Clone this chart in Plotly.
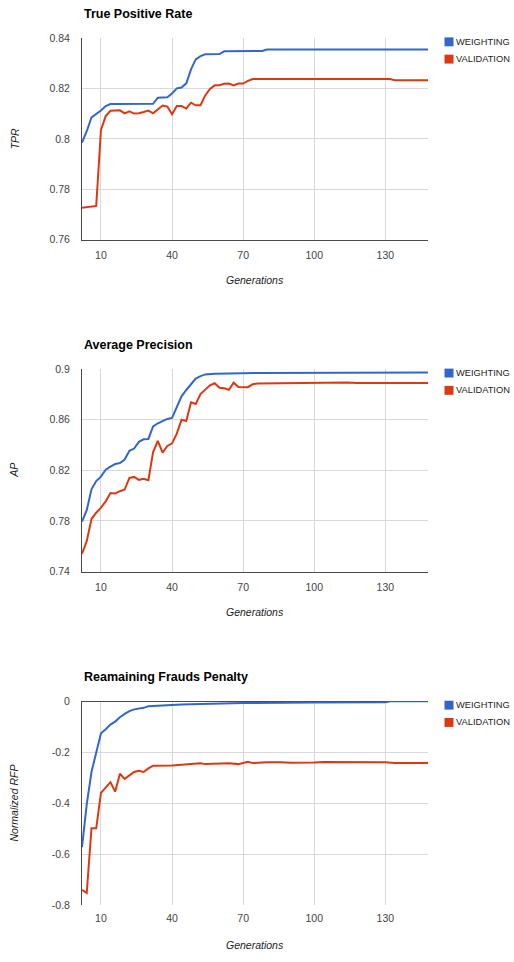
import plotly.graph_objects as go

# Figure size in pixels
W, H = 514, 962
FONT = "Arial, 'Liberation Sans', sans-serif"

SERIES = ["WEIGHTING", "VALIDATION"]
COLORS = ["#3366cc", "#dc3912"]

X_TICKS = [10, 40, 70, 100, 130]
X_RANGE = [2, 148]

# ---- True Positive Rate -------------------------------------------------
tpr_gen_w = [2, 4, 6, 8, 10, 12, 14, 32, 34, 38, 40, 42, 44, 46, 48, 50, 52, 54,
             60, 62, 78, 80, 148]
tpr_w = [0.7985, 0.8030, 0.8085, 0.8097, 0.8112, 0.8130, 0.8138, 0.8139, 0.8163,
         0.8165, 0.8180, 0.8200, 0.8203, 0.8220, 0.8275, 0.8315, 0.8328, 0.8335,
         0.8336, 0.8347, 0.8348, 0.8354, 0.8354]
tpr_gen_v = [2, 8, 10, 12, 14, 18, 20, 22, 24, 26, 28, 30, 32, 34, 36, 38, 40, 42,
             44, 46, 48, 50, 52, 54, 56, 58, 60, 62, 64, 66, 68, 70, 72, 74, 132,
             134, 148]
tpr_v = [0.7727, 0.7734, 0.8035, 0.8090, 0.8111, 0.8113, 0.8101, 0.8109, 0.8100,
         0.8101, 0.8106, 0.8112, 0.8101, 0.8115, 0.8132, 0.8128, 0.8097, 0.8130,
         0.8130, 0.8120, 0.8143, 0.8133, 0.8133, 0.8172, 0.8198, 0.8212, 0.8212,
         0.8218, 0.8219, 0.8212, 0.8219, 0.8219, 0.8230, 0.8237, 0.8237, 0.8232,
         0.8232]
tpr_ticks = [0.76, 0.78, 0.80, 0.82, 0.84]
tpr_ticktext = ["0.76", "0.78", "0.8", "0.82", "0.84"]

# ---- Average Precision --------------------------------------------------
ap_gen_w = [2, 4, 6, 8, 10, 12, 14, 16, 18, 20, 22, 24, 26, 28, 30, 32, 34, 36,
            38, 40, 42, 44, 46, 48, 50, 52, 54, 58, 64, 76, 148]
ap_w = [0.7795, 0.7885, 0.8050, 0.8115, 0.8150, 0.8205, 0.8230, 0.8250, 0.8258,
        0.8285, 0.8355, 0.8372, 0.8425, 0.8445, 0.8448, 0.8548, 0.8572, 0.8590,
        0.8606, 0.8614, 0.8705, 0.8785, 0.8835, 0.8880, 0.8925, 0.8945, 0.8958,
        0.8963, 0.8966, 0.8970, 0.8974]
ap_gen_v = [2, 4, 6, 8, 10, 12, 14, 16, 18, 20, 22, 24, 26, 28, 30, 32, 34, 36,
            38, 40, 42, 44, 46, 48, 50, 52, 54, 56, 58, 60, 62, 64, 66, 68, 72,
            74, 76, 86, 94, 100, 114, 118, 148]
ap_v = [0.7541, 0.7640, 0.7815, 0.7865, 0.7905, 0.7955, 0.8020, 0.8017, 0.8035,
        0.8048, 0.8140, 0.8148, 0.8125, 0.8134, 0.8122, 0.8345, 0.8432, 0.8340,
        0.8393, 0.8413, 0.8490, 0.8600, 0.8590, 0.8738, 0.8725, 0.8803, 0.8838,
        0.8872, 0.8888, 0.8852, 0.8849, 0.8837, 0.8893, 0.8858, 0.8857, 0.8880,
        0.8887, 0.8889, 0.8893, 0.8895, 0.8895, 0.8890, 0.8890]
ap_ticks = [0.74, 0.78, 0.82, 0.86, 0.90]
ap_ticktext = ["0.74", "0.78", "0.82", "0.86", "0.9"]

# ---- Remaining frauds penalty -------------------------------------------
rfp_gen_w = [2, 4, 6, 8, 10, 12, 14, 16, 18, 20, 22, 24, 28, 30, 34, 38, 44, 52,
             60, 70, 100, 130, 132, 148]
rfp_w = [-0.573, -0.405, -0.278, -0.200, -0.126, -0.110, -0.092, -0.080, -0.063,
         -0.050, -0.039, -0.032, -0.026, -0.020, -0.017, -0.015, -0.0125, -0.011,
         -0.009, -0.007, -0.005, -0.004, 0.0, 0.0]
rfp_gen_v = [2, 4, 6, 8, 10, 12, 14, 16, 18, 20, 22, 24, 26, 28, 30, 32, 40, 46,
             52, 54, 60, 64, 68, 72, 74, 80, 86, 90, 100, 104, 130, 134, 148]
rfp_v = [-0.741, -0.753, -0.499, -0.499, -0.360, -0.340, -0.318, -0.355, -0.285,
         -0.305, -0.290, -0.278, -0.273, -0.278, -0.264, -0.253, -0.252, -0.247,
         -0.244, -0.247, -0.245, -0.244, -0.247, -0.238, -0.243, -0.240, -0.240,
         -0.242, -0.241, -0.239, -0.240, -0.243, -0.243]
rfp_ticks = [-0.8, -0.6, -0.4, -0.2, 0.0]
rfp_ticktext = ["-0.8", "-0.6", "-0.4", "-0.2", "0"]

# Panel layout: pixel top/bottom of each plot area
PLOT_LEFT, PLOT_RIGHT = 82, 428
panels = [
    dict(title="True Positive Rate", ytitle="TPR", top=32.3, bottom=236.7,
         yrange=[0.76, 0.84], yticks=tpr_ticks, yticktext=tpr_ticktext,
         series=[(tpr_gen_w, tpr_w), (tpr_gen_v, tpr_v)], baseline_bottom=True),
    dict(title="Average Precision", ytitle="AP", top=367.7, bottom=572.7,
         yrange=[0.74, 0.90], yticks=ap_ticks, yticktext=ap_ticktext,
         series=[(ap_gen_w, ap_w), (ap_gen_v, ap_v)], baseline_bottom=True),
    dict(title="Reamaining Frauds Penalty", ytitle="Normalized RFP", top=704.0,
         bottom=910.3, yrange=[-0.8, 0.0], yticks=rfp_ticks,
         yticktext=rfp_ticktext, series=[(rfp_gen_w, rfp_w), (rfp_gen_v, rfp_v)],
         baseline_bottom=False),
]


def px_x(x):
    return x / W


def px_y(y):
    return 1 - y / H


fig = go.Figure()
annotations = []
shapes = []
GRID = "#d9d9d9"
AXIS = "#4a4a4a"

for i, p in enumerate(panels, start=1):
    sfx = "" if i == 1 else str(i)
    for (gens, vals), name, color in zip(p["series"], SERIES, COLORS):
        fig.add_trace(go.Scatter(
            x=gens, y=vals, name=name, mode="lines",
            line=dict(color=color, width=2), showlegend=False,
            cliponaxis=False, xaxis="x" + sfx, yaxis="y" + sfx,
        ))

    fig.layout["xaxis" + sfx] = dict(
        domain=[px_x(PLOT_LEFT), px_x(PLOT_RIGHT)], anchor="y" + sfx,
        range=X_RANGE, tickvals=X_TICKS, showgrid=True, gridcolor=GRID,
        zeroline=False, showline=p["baseline_bottom"], linecolor=AXIS,
        linewidth=1, ticks="", ticklabelstandoff=6,
        tickfont=dict(family=FONT, size=10.5, color="#444"),
    )
    fig.layout["yaxis" + sfx] = dict(
        domain=[px_y(p["bottom"]), px_y(p["top"])], anchor="x" + sfx,
        range=p["yrange"], tickvals=p["yticks"], ticktext=p["yticktext"],
        showgrid=True, gridcolor=GRID, zeroline=not p["baseline_bottom"],
        zerolinecolor=AXIS, zerolinewidth=1, showline=True, linecolor=AXIS,
        linewidth=1, ticks="", ticklabelstandoff=9,
        tickfont=dict(family=FONT, size=10.5, color="#444"),
    )

    # Chart title
    annotations.append(dict(
        text="<b>%s</b>" % p["title"], x=px_x(PLOT_LEFT), y=px_y(p["top"] - 24.5),
        xref="paper", yref="paper", xanchor="left", yanchor="middle",
        showarrow=False, font=dict(family=FONT, size=12.5, color="#000"),
    ))
    # Axis titles
    annotations.append(dict(
        text="<i>%s</i>" % p["ytitle"], x=px_x(14.5),
        y=px_y((p["top"] + p["bottom"]) / 2), xref="paper", yref="paper",
        xanchor="center", yanchor="middle", textangle=-90, showarrow=False,
        font=dict(family=FONT, size=10.5, color="#222"),
    ))
    annotations.append(dict(
        text="<i>Generations</i>", x=px_x((PLOT_LEFT + PLOT_RIGHT) / 2),
        y=px_y(p["bottom"] + 40.5), xref="paper", yref="paper",
        xanchor="center", yanchor="middle", showarrow=False,
        font=dict(family=FONT, size=10.5, color="#222"),
    ))
    # Legend: coloured square + series name
    for k, (name, color) in enumerate(zip(SERIES, COLORS)):
        cy = p["top"] + 4 + 17.5 * k
        shapes.append(dict(
            type="rect", xref="paper", yref="paper",
            x0=px_x(444.5), x1=px_x(453.5), y0=px_y(cy + 4.5), y1=px_y(cy - 4.5),
            fillcolor=color, line=dict(width=0),
        ))
        annotations.append(dict(
            text=name, x=px_x(454.5), y=px_y(cy), xref="paper", yref="paper",
            xanchor="left", yanchor="middle", showarrow=False, borderpad=0,
            font=dict(family=FONT, size=9.3, color="#222"),
        ))

fig.update_layout(
    width=W, height=H, margin=dict(l=0, r=0, t=0, b=0),
    paper_bgcolor="white", plot_bgcolor="white",
    annotations=annotations, shapes=shapes, showlegend=False,
    font=dict(family=FONT),
)

fig.write_html("out.html")
